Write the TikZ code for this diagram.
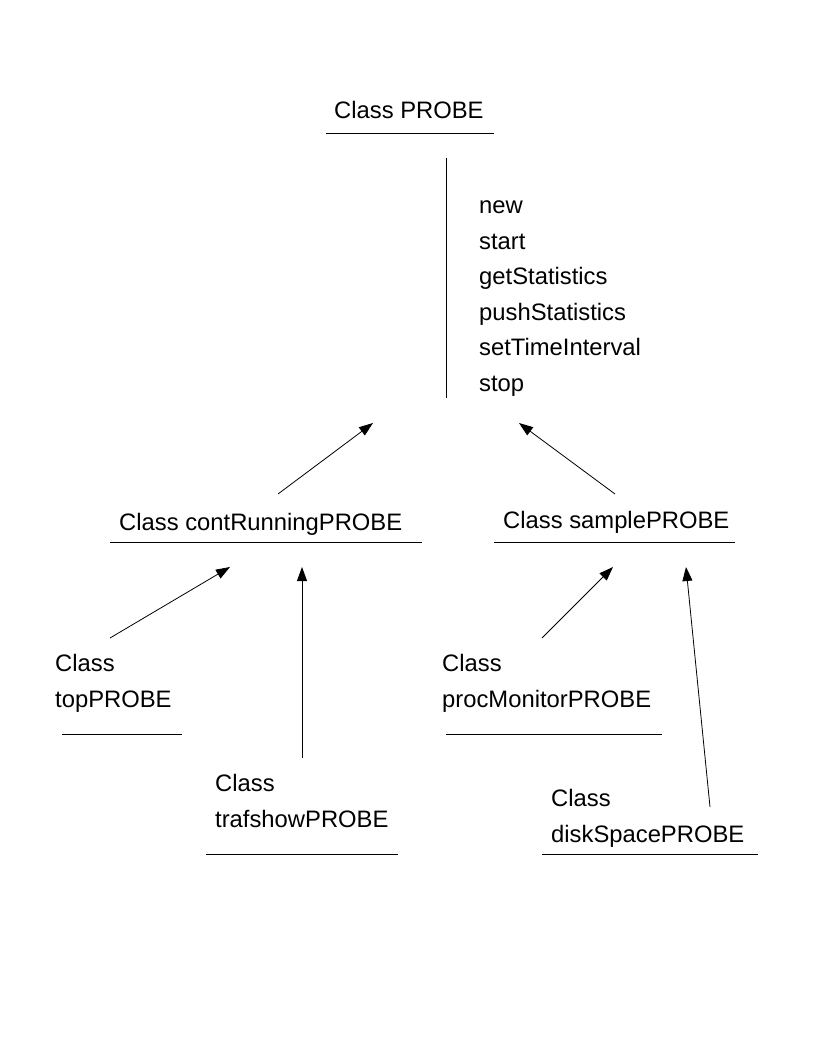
\documentclass[tikz,border=0pt]{standalone}
\usepackage{fontspec}
\setmainfont{Liberation Sans}
\usetikzlibrary{arrows.meta}
\begin{document}
\begin{tikzpicture}[x=1pt,y=-1pt,
  lbl/.style={anchor=base west,inner sep=0pt,align=left,font=\fontsize{23.8}{35.5}\selectfont},
  uline/.style={line width=1pt},
  inh/.style={line width=0.8pt,-{Triangle[length=14pt,width=10pt]}}]
\useasboundingbox (0,0) rectangle (816,1056);
% Class PROBE
\node[lbl] (probe) at (334,119) {Class PROBE};
\draw[uline] (326,134) -- (494,134);
\draw[uline] (446,158) -- (446,398);
\node[lbl] (methods) at (479,391) {new\\start\\getStatistics\\pushStatistics\\setTimeInterval\\stop};
% level 2
\node[lbl] (cont) at (119,530) {Class contRunningPROBE};
\draw[uline] (110,542) -- (422,542);
\node[lbl] (sample) at (503,528) {Class samplePROBE};
\draw[uline] (494,542) -- (735,542);
% level 3
\node[lbl] (top) at (55,707) {Class\\topPROBE};
\draw[uline] (62,734) -- (182,734);
\node[lbl] (traf) at (215,827) {Class\\trafshowPROBE};
\draw[uline] (206,854) -- (398,854);
\node[lbl] (proc) at (442,707) {Class\\procMonitorPROBE};
\draw[uline] (446,734) -- (662,734);
\node[lbl] (disk) at (551,842) {Class\\diskSpacePROBE};
\draw[uline] (542,854) -- (758,854);
% arrow end points
\coordinate (contS) at (278,494);
\coordinate (probeL) at (373,423);
\coordinate (sampleS) at (615,494);
\coordinate (probeR) at (519,423);
\coordinate (topS) at (110,638);
\coordinate (contL) at (230,567);
\coordinate (trafS) at (302,758);
\coordinate (contR) at (302,567);
\coordinate (procS) at (542,638);
\coordinate (sampleL) at (613,567);
\coordinate (diskS) at (710,807);
\coordinate (sampleR) at (686,567);
\draw[inh] (contS) -- (probeL);
\draw[inh] (sampleS) -- (probeR);
\draw[inh] (topS) -- (contL);
\draw[inh] (trafS) -- (contR);
\draw[inh] (procS) -- (sampleL);
\draw[inh] (diskS) -- (sampleR);
\end{tikzpicture}
\end{document}
